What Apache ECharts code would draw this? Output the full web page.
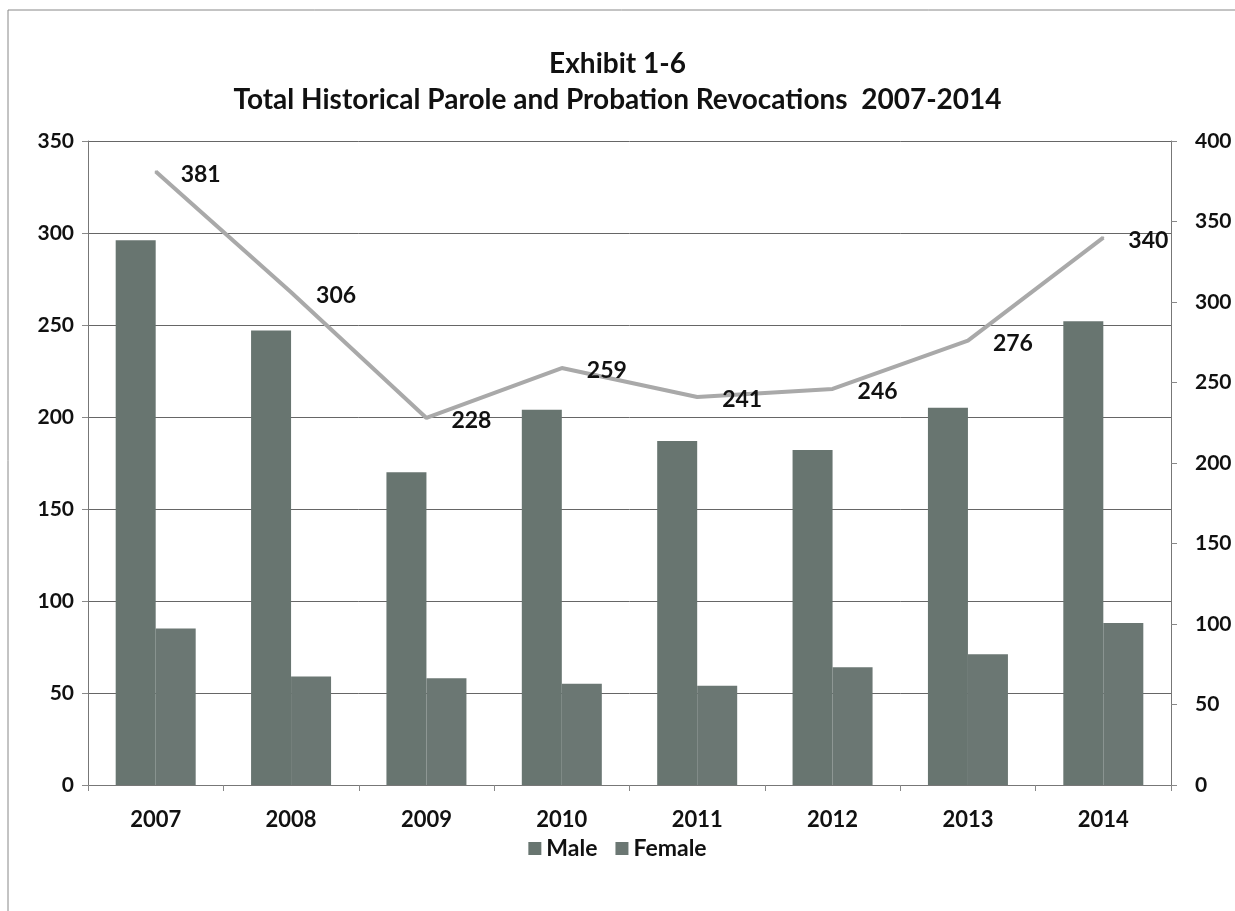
<!DOCTYPE html>
<html>
<head>
<meta charset="utf-8">
<script src="https://cdn.jsdelivr.net/npm/echarts@6/dist/echarts.min.js"></script>
<style>
html,body{margin:0;padding:0;background:#fff;}
#c{width:1235px;height:911px;}
</style>
</head>
<body>
<div id="c"></div>
<script>
const categories = ['2007','2008','2009','2010','2011','2012','2013','2014'];
const maleValues = [296, 247, 170, 204, 187, 182, 205, 252];
const femaleValues = [85, 59, 58, 55, 54, 64, 71, 88];
const totalValues = [381, 306, 228, 259, 241, 246, 276, 340];
const leftTicks = {min: 0, max: 350, interval: 50};
const rightTicks = {min: 0, max: 400, interval: 50};

const FONT = 'Lato, "Open Sans", sans-serif';
const chart = echarts.init(document.getElementById('c'));
chart.setOption({
  animation: false,
  backgroundColor: '#fff',
  title: {
    text: 'Exhibit 1-6\nTotal Historical Parole and Probation Revocations  2007-2014',
    left: 'center', top: 41,
    textStyle: {fontFamily: FONT, fontSize: 28, fontWeight: 'bold', color: '#111', lineHeight: 36}
  },
  legend: {
    data: ['Male', 'Female'],
    bottom: 46, left: 'center',
    icon: 'rect', itemWidth: 13, itemHeight: 13, itemGap: 18,
    textStyle: {fontFamily: FONT, fontSize: 23, fontWeight: 'bold', color: '#111'}
  },
  grid: {left: 88, right: 64, top: 141, bottom: 126, containLabel: false},
  xAxis: {
    type: 'category', data: categories,
    axisLine: {lineStyle: {color: '#777', width: 1}},
    axisTick: {show: true, length: 6, lineStyle: {color: '#888'}},
    axisLabel: {fontFamily: FONT, fontSize: 22, fontWeight: 'bold', color: '#111', margin: 24}
  },
  yAxis: [
    {type: 'value', min: leftTicks.min, max: leftTicks.max, interval: leftTicks.interval,
     axisLine: {show: true, lineStyle: {color: '#777'}},
     axisTick: {show: true, length: 6, lineStyle: {color: '#888'}},
     splitLine: {lineStyle: {color: '#666', width: 1}},
     axisLabel: {fontFamily: FONT, fontSize: 21, fontWeight: 'bold', color: '#111', margin: 14}},
    {type: 'value', min: rightTicks.min, max: rightTicks.max, interval: rightTicks.interval,
     axisLine: {show: true, lineStyle: {color: '#777'}},
     axisTick: {show: true, length: 6, lineStyle: {color: '#888'}},
     splitLine: {show: false},
     axisLabel: {fontFamily: FONT, fontSize: 21, fontWeight: 'bold', color: '#111', margin: 24}}
  ],
  series: [
    {name: 'Male', type: 'bar', data: maleValues, yAxisIndex: 0,
     barWidth: 40, barGap: '0%',
     itemStyle: {color: '#687570'}},
    {name: 'Female', type: 'bar', data: femaleValues, yAxisIndex: 0,
     barWidth: 40, barGap: '0%',
     itemStyle: {color: '#6b7773'}},
    {name: 'Total', type: 'line', data: totalValues, yAxisIndex: 1,
     symbol: 'circle', symbolSize: 2, showSymbol: true, z: 5,
     itemStyle: {color: '#a9a9a9'},
     lineStyle: {color: '#a9a9a9', width: 4},
     label: {show: true, position: 'right', distance: 24, offset: [0, 3],
       fontFamily: FONT, fontSize: 23, fontWeight: 'bold', color: '#111'}}
  ],
  graphic: [
    {type: 'line', shape: {x1: 8, y1: 10, x2: 1235, y2: 10}, style: {stroke: '#888', lineWidth: 1}},
    {type: 'line', shape: {x1: 8, y1: 10, x2: 8, y2: 911}, style: {stroke: '#888', lineWidth: 1}}
  ]
});
</script>
</body>
</html>
